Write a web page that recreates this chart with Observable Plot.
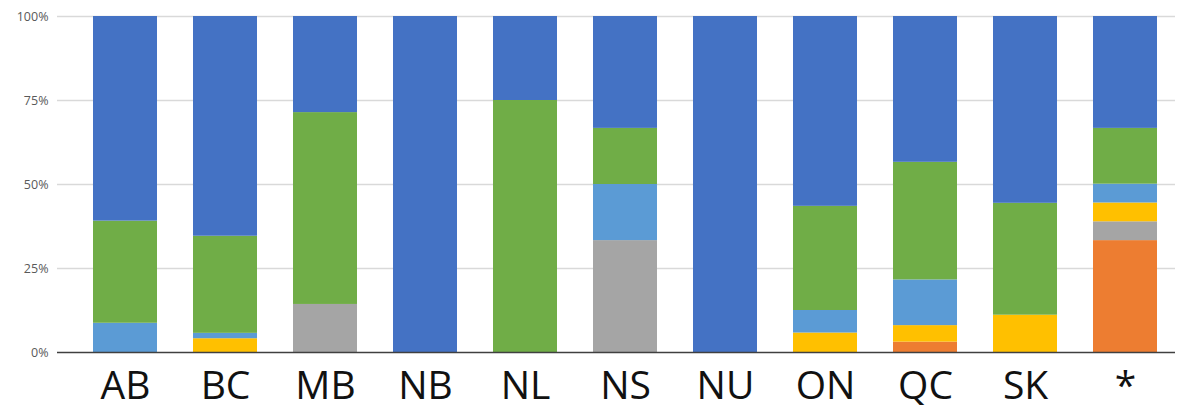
<!DOCTYPE html>
<html>
<head>
<meta charset="utf-8">
<script src="https://cdn.jsdelivr.net/npm/d3@7"></script>
<script src="https://cdn.jsdelivr.net/npm/@observablehq/plot@0.6"></script>
<style>
  html, body { margin: 0; padding: 0; background: #fff; }
</style>
</head>
<body>
<div id="chart"></div>
<script>
const categories = ["AB", "BC", "MB", "NB", "NL", "NS", "NU", "ON", "QC", "SK", "*"];
// series stacked bottom to top
const seriesNames = ["Series 1", "Series 2", "Series 3", "Series 4", "Series 5", "Series 6"];
const seriesColors = ["#ED7D31", "#A5A5A5", "#FFC000", "#5B9BD5", "#70AD47", "#4472C4"];
const series1Vals = [0,    0,    0,    0,   0,    0,    0,   0,    3.1,  0,    33.3];
const series2Vals = [0,    0,    14.3, 0,   0,    33.3, 0,   0,    0,    0,    5.6];
const series3Vals = [0,    4.1,  0,    0,   0,    0,    0,   5.8,  4.9,  11.1, 5.6];
const series4Vals = [8.7,  1.6,  0,    0,   0,    16.7, 0,   6.7,  13.6, 0,    5.6];
const series5Vals = [30.4, 28.9, 57.1, 0,   75,   16.7, 0,   31.0, 35.0, 33.3, 16.6];
const series6Vals = [60.9, 65.4, 28.6, 100, 25,   33.3, 100, 56.5, 43.4, 55.6, 33.3];
const yTicks = [0, 0.25, 0.5, 0.75, 1];

const seriesVals = [series1Vals, series2Vals, series3Vals, series4Vals, series5Vals, series6Vals];
const data = [];
seriesNames.forEach((s, i) => {
  categories.forEach((c, j) => {
    data.push({category: c, series: s, value: seriesVals[i][j]});
  });
});

const chart = Plot.plot({
  width: 1189,
  height: 411,
  marginTop: 16,
  marginBottom: 59,
  marginLeft: 75,
  marginRight: 14,
  style: {background: "#fff", fontFamily: "'Open Sans', sans-serif"},
  x: {domain: categories, paddingInner: 0.36, paddingOuter: 0.17, label: null},
  y: {domain: [0, 1], label: null},
  color: {domain: seriesNames, range: seriesColors},
  marks: [
    Plot.ruleY(yTicks.slice(1), {stroke: "#d9d9d9", strokeWidth: 1.3, insetLeft: -18}),
    Plot.barY(data, Plot.stackY({offset: "normalize", order: seriesNames}, {
      x: "category", y: "value", fill: "series"
    })),
    Plot.ruleY([0], {stroke: "#404040", strokeWidth: 1.3, insetLeft: -18}),
    Plot.axisY({ticks: yTicks, tickFormat: d => Math.round(d * 100) + "%", tickSize: 0, tickPadding: 27,
      fontSize: 12.5, color: "#595959", label: null}),
    Plot.axisX({tickSize: 0, tickPadding: 19, fontSize: 39, color: "#111", label: null})
  ]
});
document.getElementById("chart").appendChild(chart);
</script>
</body>
</html>
